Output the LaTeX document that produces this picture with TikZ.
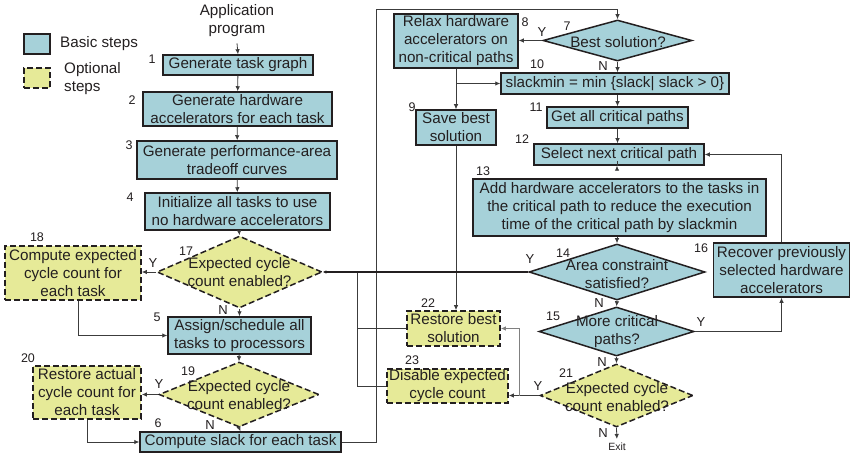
\documentclass[tikz,border=0pt]{standalone}
\usepackage{fontspec}
\setmainfont{Liberation Sans}
\usetikzlibrary{arrows.meta,calc,shapes.geometric}
\definecolor{stepblue}{RGB}{166,209,217}
\definecolor{stepyellow}{RGB}{230,234,152}
\definecolor{ink}{RGB}{35,31,32}
\definecolor{wirec}{RGB}{60,60,60}
\newcommand\boxfont{\fontsize{15.2}{18}\selectfont}
\newcommand\numfont{\fontsize{12.5}{14}\selectfont}
\newcommand\ynfont{\fontsize{13}{14}\selectfont}
\newcommand\exitfont{\fontsize{10.5}{12}\selectfont}
\tikzset{
  basicbox/.style={draw=ink, line width=1.5pt, fill=stepblue, inner sep=0pt,
    align=center, font=\boxfont, text=ink},
  optbox/.style={draw=ink, line width=1.7pt, dash pattern=on 6pt off 3pt,
    fill=stepyellow, inner sep=0pt, align=center, font=\boxfont, text=ink},
  basicdia/.style={diamond, draw=ink, line width=1.5pt, fill=stepblue, inner sep=0pt},
  optdia/.style={diamond, draw=ink, line width=1.5pt, dash pattern=on 6pt off 3pt,
    fill=stepyellow, inner sep=0pt},
  dtext/.style={align=center, font=\boxfont, text=ink, inner sep=0pt},
  num/.style={font=\numfont, text=ink, inner sep=0pt},
  yn/.style={font=\ynfont, text=ink, inner sep=0pt},
  wire/.style={draw=wirec, line width=0.8pt},
  flow/.style={wire, -{Latex[length=5pt,width=4.5pt]}},
}
\begin{document}
\begin{tikzpicture}[x=1pt, y=-1pt]
\useasboundingbox (0,0) rectangle (851,454);

% legend
\node[basicbox, minimum width=26, minimum height=20] (lgbasic) at (37,44) {};
\node[optbox, minimum width=26, minimum height=20] (lgopt) at (37,78) {};
\node[dtext, anchor=west] (lgbasictxt) at (60,44) {Basic steps};
\node[dtext, anchor=west, align=left] (lgopttxt) at (64,79) {Optional\\steps};

% left column
\node[dtext] (app) at (237,21) {Application\\program};
\node[basicbox, minimum width=150, minimum height=20] (n1) at (238,65) {Generate task graph};
\node[basicbox, minimum width=189, minimum height=34] (n2) at (237.5,109) {Generate hardware\\accelerators for each task};
\node[basicbox, minimum width=200, minimum height=38] (n3) at (237,160) {Generate performance-area\\tradeoff curves};
\node[basicbox, minimum width=185, minimum height=37] (n4) at (237.5,211.5) {Initialize all tasks to use\\no hardware accelerators};
\node[optdia, minimum width=165, minimum height=72] (d17) at (239.5,272) {};
\node[dtext] (t17) at (239.5,272) {Expected cycle\\count enabled?};
\node[optbox, minimum width=136, minimum height=54] (n18) at (73,273) {Compute expected\\cycle count for\\each task};
\node[basicbox, minimum width=143, minimum height=37] (n5) at (239.5,335.5) {Assign/schedule all\\tasks to processors};
\node[optdia, minimum width=160, minimum height=65] (d19) at (239,394.5) {};
\node[dtext] (t19) at (239,395) {Expected cycle\\count enabled?};
\node[optbox, minimum width=108, minimum height=53] (n20) at (87,392.5) {Restore actual\\cycle count for\\each task};
\node[basicbox, minimum width=201, minimum height=20] (n6) at (240.5,442) {Compute slack for each task};

% right column
\node[basicdia, minimum width=149, minimum height=41] (d7) at (617.5,40.5) {};
\node[dtext] (t7) at (618,42) {Best solution?};
\node[basicbox, minimum width=124, minimum height=54] (n8) at (456,41) {Relax hardware\\accelerators on\\non-critical paths};
\node[basicbox, minimum width=228, minimum height=21] (n10) at (615,83.5) {slackmin = min \{slack| slack > 0\}};
\node[basicbox, minimum width=80, minimum height=35] (n9) at (456,127.5) {Save best\\solution};
\node[basicbox, minimum width=141, minimum height=21] (n11) at (617.5,117.5) {Get all critical paths};
\node[basicbox, minimum width=170, minimum height=21] (n12) at (619,154.5) {Select next critical path};
\node[basicbox, minimum width=293, minimum height=57] (n13) at (619.5,207.5) {Add hardware accelerators to the tasks in\\the critical path to reduce the execution\\time of the critical path by slackmin};
\node[basicdia, minimum width=176, minimum height=56] (d14) at (617,272) {};
\node[dtext] (t14) at (617,274) {Area constraint\\satisfied?};
\node[basicbox, minimum width=136, minimum height=54] (n16) at (781.5,270) {Recover previously\\selected hardware\\accelerators};
\node[basicdia, minimum width=155, minimum height=49] (d15) at (616.5,331.5) {};
\node[dtext] (t15) at (617,332) {More critical\\paths?};
\node[optdia, minimum width=153, minimum height=63] (d21) at (616.5,395.5) {};
\node[dtext] (t21) at (617,397) {Expected cycle\\count enabled?};
\node[optbox, minimum width=93, minimum height=35] (n22) at (453.5,328.5) {Restore best\\solution};
\node[optbox, minimum width=121, minimum height=34] (n23) at (447.5,386) {Disable expected\\cycle count};
\node[font=\exitfont, text=ink, inner sep=0pt] (exit) at (617,447) {Exit};

% step numbers
\node[num] (k1) at (152,59) {1};
\node[num] (k2) at (132,100) {2};
\node[num] (k3) at (129,145) {3};
\node[num] (k4) at (130,197) {4};
\node[num] (k5) at (157,317) {5};
\node[num] (k6) at (158,423) {6};
\node[num] (k7) at (567,26) {7};
\node[num] (k8) at (525,22) {8};
\node[num] (k9) at (412,107) {9};
\node[num] (k10) at (537,64) {10};
\node[num] (k11) at (536,107) {11};
\node[num] (k12) at (522,139) {12};
\node[num] (k13) at (483,171) {13};
\node[num] (k14) at (563,253) {14};
\node[num] (k15) at (553,316) {15};
\node[num] (k16) at (701,248) {16};
\node[num] (k17) at (186,251) {17};
\node[num] (k18) at (37,237) {18};
\node[num] (k19) at (188,371) {19};
\node[num] (k20) at (28,358) {20};
\node[num] (k21) at (566,373) {21};
\node[num] (k22) at (428,303) {22};
\node[num] (k23) at (412,360) {23};

% branch labels
\node[yn] (y7) at (542,32) {Y};
\node[yn] (nn7) at (603,66) {N};
\node[yn] (y17) at (153,263) {Y};
\node[yn] (nn17) at (223,310) {N};
\node[yn] (y19) at (159,384) {Y};
\node[yn] (nn19) at (210,425) {N};
\node[yn] (y14) at (530,259) {Y};
\node[yn] (nn14) at (599,303) {N};
\node[yn] (y15) at (701,322) {Y};
\node[yn] (nn15) at (602,362) {N};
\node[yn] (y21) at (538,386) {Y};
\node[yn] (nn21) at (603,433) {N};

% helper points
\coordinate (loop) at (376,9);
\coordinate (join) at (357,272);
\coordinate (b21) at ($(d21.west)+(-20,0)$);

% left column flow
\draw[flow] (app.south) ++(0,6) -- (n1.north);
\draw[flow] (n1) -- (n2);
\draw[flow] (n2) -- (n3);
\draw[flow] (n3) -- (n4);
\draw[flow] (n4) -- (d17.north);
\draw[flow] (d17.west) -- (d17.west -| n18.east);
\draw[flow] (d17.south) -- (n5.north);
\draw[flow] ($(n18.south)+(5,0)$) |- (n5.west);
\draw[flow] (n5) -- (d19.north);
\draw[flow] (d19.west) -- (d19.west -| n20.east);
\draw[flow] (d19.south) -- (n6.north);
\draw[flow] (n20.south) |- (n6.west);
\draw[flow] (n6.east) -| (loop) -| (d7.north);

% right column flow
\draw[flow] (d7.west) -- (d7.west -| n8.east);
\draw[flow] (d7.south) -- (d7.south |- n10.north);
\draw[flow] (n8.south) -- (n9.north);
\draw[flow] (n8.south |- n10.west) -- (n10.west);
\draw[flow] (n10.south -| n11.north) -- (n11.north);
\draw[flow] (n11.south) -- (n11.south |- n12.north);
\draw[flow] (n12.south -| d14.north) -- (n12.south -| d14.north |- n13.north);
\draw[flow] (n13.south -| d14.north) -- (d14.north);
\draw[flow] (d14.south) -- (d15.north);
\draw[flow] (d15.south) -- (d21.north);
\draw[flow, shorten >=4pt] (d21.south) -- (exit.north);
\draw[flow] (d15.east) -| (n16.south);
\draw[flow] (n16.north) |- (n12.east);
\draw[flow] (n9.south) -- (n9.south |- n22.north);
\draw[flow] (d21.west) -- (d21.west -| n23.east);
\draw[flow, draw=gray] (b21) |- (n22.east);
\draw[wire] (n22.west) -| (join);
\draw[wire] (n23.west) -| (join);
\draw[draw=ink, line width=1.8pt, -{Latex[length=3.5pt,width=3.5pt]}] (d14.west) -- (d17.east);
\end{tikzpicture}
\end{document}
